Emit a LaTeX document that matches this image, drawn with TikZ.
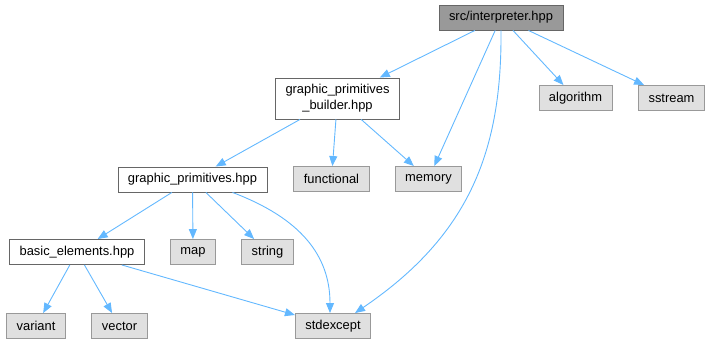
\documentclass[tikz,border=0pt]{standalone}
\usepackage{fontspec}
\setmainfont{Liberation Sans}
\usetikzlibrary{arrows.meta}

\definecolor{edgeblue}{HTML}{63B8FF}
\definecolor{rootfill}{HTML}{999999}
\definecolor{extfill}{HTML}{E0E0E0}
\definecolor{boxline}{HTML}{666666}
\definecolor{extline}{HTML}{999999}

\begin{document}
\begin{tikzpicture}[x=1pt, y=-1pt,
file/.style={draw=boxline, fill=white, line width=0.9pt, font=\fontsize{12.9}{16}\selectfont,
  inner xsep=10pt, inner ysep=6.5pt, minimum height=25pt, align=center},
root/.style={file, fill=rootfill},
ext/.style={file, fill=extfill, draw=extline},
dep/.style={draw=edgeblue, line width=0.9pt, -{Triangle[length=10pt,width=8pt]}}]

\path[use as bounding box] (0,0) rectangle (712,344);

% headers of the project
\node[root] (interp)   at (501.0,017.5) {src/interpreter.hpp};
\node[file] (gpb)      at (337.5,098.5) {graphic\_primitives\\\_builder.hpp};
\node[file] (gp)       at (192.5,179.5) {graphic\_primitives.hpp};
\node[file] (basic)    at (077.0,252.0) {basic\_elements.hpp};

% system headers
\node[ext]  (algorithm)  at (575.5,098.0) {algorithm};
\node[ext]  (sstream)    at (671.5,098.0) {sstream};
\node[ext]  (functional) at (331.5,179.0) {functional};
\node[ext]  (memory)     at (428.5,179.0) {memory};
\node[ext]  (map)        at (193.0,252.0) {map};
\node[ext]  (string)     at (267.5,252.0) {string};
\node[ext]  (variant)    at (036.0,326.0) {variant};
\node[ext]  (vector)     at (119.5,326.0) {vector};
\node[ext]  (stdexcept)  at (333.0,326.0) {stdexcept};

\draw[dep] (interp) -- (gpb);
\draw[dep] (interp) -- (memory);
\draw[dep] (interp.south) .. controls (502,150) and (470,235) .. ([xshift=22pt]stdexcept.north);
\draw[dep] (interp) -- (algorithm);
\draw[dep] (interp) -- (sstream);

\draw[dep] (gpb) -- (gp);
\draw[dep] (gpb) -- (functional);
\draw[dep] (gpb) -- (memory);

\draw[dep] (gp) -- (basic);
\draw[dep] (gp) -- (map);
\draw[dep] (gp) -- (string);
\draw[dep] ([xshift=40pt]gp.south) .. controls (300,218) and (330,255) .. ([xshift=-3pt]stdexcept.north);

\draw[dep] (basic) -- (variant);
\draw[dep] (basic) -- (vector);
\draw[dep] (basic) -- (stdexcept);

\end{tikzpicture}
\end{document}
